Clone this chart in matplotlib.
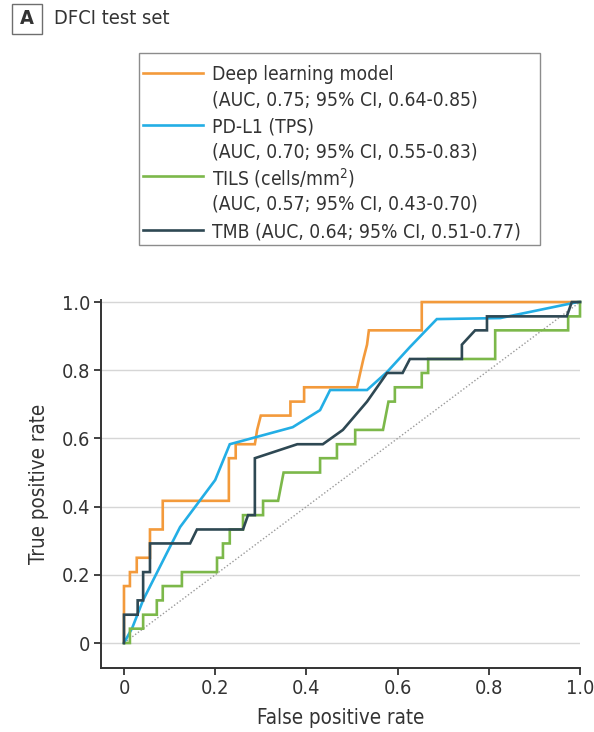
import matplotlib
matplotlib.use("Agg")
import matplotlib.pyplot as plt
from matplotlib.lines import Line2D
from matplotlib.patches import Rectangle

# ROC curves (false positive rate, true positive rate)
dl_fpr = [0, 0, 0.013, 0.013, 0.028, 0.028, 0.057, 0.057, 0.085, 0.085, 0.23, 0.23,
          0.245, 0.245, 0.287, 0.292, 0.30, 0.365, 0.365, 0.395, 0.395, 0.511, 0.518,
          0.525, 0.533, 0.537, 0.653, 0.653, 1.0]
dl_tpr = [0, 0.167, 0.167, 0.208, 0.208, 0.25, 0.25, 0.333, 0.333, 0.417, 0.417, 0.542,
          0.542, 0.583, 0.583, 0.625, 0.667, 0.667, 0.708, 0.708, 0.75, 0.75, 0.792,
          0.833, 0.875, 0.917, 0.917, 1.0, 1.0]

pdl1_fpr = [0, 0.018, 0.042, 0.094, 0.123, 0.167, 0.20, 0.232, 0.37, 0.43, 0.452, 0.533,
            0.577, 0.627, 0.686, 0.825, 0.995, 1.0]
pdl1_tpr = [0, 0.044, 0.126, 0.264, 0.34, 0.419, 0.478, 0.583, 0.633, 0.683, 0.742, 0.742,
            0.795, 0.868, 0.95, 0.953, 1.0, 1.0]

tils_fpr = [0, 0.013, 0.013, 0.042, 0.042, 0.072, 0.072, 0.085, 0.085, 0.127, 0.127, 0.204,
            0.204, 0.217, 0.217, 0.232, 0.232, 0.261, 0.261, 0.305, 0.305, 0.338, 0.35,
            0.43, 0.43, 0.467, 0.467, 0.507, 0.507, 0.568, 0.58, 0.594, 0.594, 0.653,
            0.653, 0.667, 0.667, 0.814, 0.814, 0.974, 0.974, 1.0, 1.0]
tils_tpr = [0, 0, 0.042, 0.042, 0.083, 0.083, 0.125, 0.125, 0.167, 0.167, 0.208, 0.208,
            0.25, 0.25, 0.292, 0.292, 0.333, 0.333, 0.375, 0.375, 0.417, 0.417, 0.5,
            0.5, 0.542, 0.542, 0.583, 0.583, 0.625, 0.625, 0.708, 0.708, 0.75, 0.75,
            0.792, 0.792, 0.833, 0.833, 0.917, 0.917, 0.958, 0.958, 1.0]

tmb_fpr = [0, 0, 0.03, 0.03, 0.042, 0.042, 0.057, 0.057, 0.145, 0.16, 0.261, 0.272, 0.287,
           0.287, 0.38, 0.436, 0.48, 0.533, 0.577, 0.611, 0.627, 0.741, 0.741, 0.77, 0.796,
           0.796, 0.971, 0.982, 1.0]
tmb_tpr = [0, 0.083, 0.083, 0.125, 0.125, 0.208, 0.208, 0.292, 0.292, 0.333, 0.333, 0.375,
           0.375, 0.542, 0.583, 0.583, 0.625, 0.708, 0.792, 0.792, 0.833, 0.833, 0.875,
           0.917, 0.917, 0.958, 0.958, 1.0, 1.0]

series_labels = [
    "Deep learning model\n(AUC, 0.75; 95% CI, 0.64-0.85)",
    "PD-L1 (TPS)\n(AUC, 0.70; 95% CI, 0.55-0.83)",
    "TILS (cells/mm$^2$)\n(AUC, 0.57; 95% CI, 0.43-0.70)",
    "TMB (AUC, 0.64; 95% CI, 0.51-0.77)",
]
series_colors = ["#f39a3b", "#23aee5", "#7cb84a", "#2e4853"]

x_ticks = [0, 0.2, 0.4, 0.6, 0.8, 1.0]
x_tick_labels = ["0", "0.2", "0.4", "0.6", "0.8", "1.0"]
y_ticks = [0, 0.2, 0.4, 0.6, 0.8, 1.0]
y_tick_labels = ["0", "0.2", "0.4", "0.6", "0.8", "1.0"]

# Narrow sans: condensed DejaVu
plt.rcParams["font.family"] = ["DejaVu Sans"]
plt.rcParams["font.stretch"] = "condensed"
plt.rcParams["mathtext.fontset"] = "dejavusans"
TXT = "#333333"
FS = 14.4
FS_LABEL = 14.8
FS_LEG = 13.9

W, H = 594, 732
fig = plt.figure(figsize=(W / 100, H / 100), dpi=100)


def fx(px):
    return px / W


def fy(py):
    return 1 - py / H


ax = fig.add_axes([fx(101), fy(668), fx(580) - fx(101), fy(300) - fy(668)])

ax.plot([0, 1], [0, 1], color="#9a9a9a", lw=1.0, ls=(0, (1, 1.5)), zorder=2)
curves = [(dl_fpr, dl_tpr), (pdl1_fpr, pdl1_tpr), (tils_fpr, tils_tpr), (tmb_fpr, tmb_tpr)]
for (xs, ys), c in zip(curves, series_colors):
    ax.plot(xs, ys, color=c, lw=1.9, clip_on=False, zorder=3, solid_joinstyle="miter")

ax.set_xlim(-0.0504, 1.0)
ax.set_ylim(-0.0733, 1.006)
ax.set_xticks(x_ticks)
ax.set_xticklabels(x_tick_labels)
ax.set_yticks(y_ticks)
ax.set_yticklabels(y_tick_labels)
ax.grid(axis="y", color="#d6d6d6", lw=1.0, zorder=1)
ax.set_axisbelow(True)
for s in ("top", "right"):
    ax.spines[s].set_visible(False)
for s in ("left", "bottom"):
    ax.spines[s].set_color(TXT)
    ax.spines[s].set_linewidth(1.4)
ax.tick_params(axis="both", direction="out", length=5, width=1.3, color=TXT,
               labelcolor=TXT, labelsize=FS, pad=3)
ax.set_xlabel("False positive rate", fontsize=FS_LABEL, color=TXT, labelpad=7)
ax.set_ylabel("True positive rate", fontsize=FS_LABEL, color=TXT, labelpad=9)

# Panel title
fig.add_artist(Rectangle((fx(12), fy(34)), fx(42) - fx(12), fy(4) - fy(34),
                         transform=fig.transFigure, fill=False, ec="#6e6e6e", lw=1.0))
fig.text(fx(27), fy(19), "A", ha="center", va="center", fontsize=FS, color=TXT,
         fontweight="bold")
fig.text(fx(54), fy(19), "DFCI test set", ha="left", va="center", fontsize=FS, color=TXT)

# Legend box
fig.add_artist(Rectangle((fx(139), fy(245)), fx(540) - fx(139), fy(53) - fy(245),
                         transform=fig.transFigure, fill=False, ec="#8c8c8c", lw=1.0))
line_rows = [73, 125, 176, 230]
for lab, c, row in zip(series_labels, series_colors, line_rows):
    fig.add_artist(Line2D([fx(143), fx(203)], [fy(row), fy(row)],
                          transform=fig.transFigure, color=c, lw=1.9))
    for k, part in enumerate(lab.split("\n")):
        fig.text(fx(212), fy(row + 25.5 * k), part, ha="left", va="center_baseline",
                 fontsize=FS_LEG, color=TXT)

fig.savefig("out.png", dpi=100)
